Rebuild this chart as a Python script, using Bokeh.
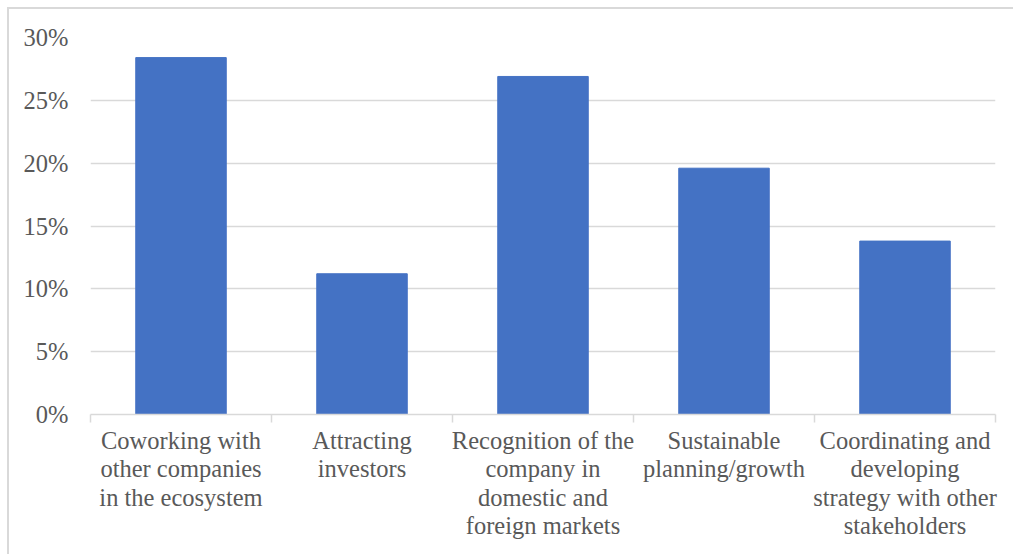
import numpy as np
from bokeh.plotting import figure
from bokeh.models import (ColumnDataSource, FixedTicker, NumeralTickFormatter,
                          Range1d, InlineStyleSheet)
from bokeh.embed import file_html
from bokeh.resources import INLINE

categories = [
    "Coworking with\nother companies\nin the ecosystem",
    "Attracting\ninvestors",
    "Recognition of the\ncompany in\ndomestic and\nforeign markets",
    "Sustainable\nplanning/growth",
    "Coordinating and\ndeveloping\nstrategy with other\nstakeholders",
]
values = [0.284, 0.112, 0.269, 0.196, 0.138]
y_ticks = [0, 0.05, 0.10, 0.15, 0.20, 0.25, 0.30]

n = len(categories)
pos = np.arange(n) + 0.5
source = ColumnDataSource(dict(x=pos, top=values))

FONT = "Liberation Serif"
TXT = "#595959"
GRID = "#d9d9d9"

border_css = InlineStyleSheet(css="""
:host::after {
  content: "";
  position: absolute;
  left: 7px; top: 7px; right: -20px; bottom: -20px;
  border: 2px solid #d9d9d9;
  pointer-events: none;
}
""")

p = figure(width=1013, height=554, output_backend="svg", toolbar_location=None,
           x_range=Range1d(0, n), y_range=Range1d(0, 0.30),
           min_border_left=90, min_border_right=18, min_border_top=37,
           min_border_bottom=140, stylesheets=[border_css])
p.outline_line_color = None
p.background_fill_color = "white"
p.border_fill_color = "white"

p.vbar(x="x", top="top", width=0.5, source=source, fill_color="#4472C4",
       line_color="#4472C4")

# y axis
p.yaxis.ticker = FixedTicker(ticks=y_ticks)
p.yaxis.formatter = NumeralTickFormatter(format="0%")
p.yaxis.axis_line_color = None
p.yaxis.major_tick_line_color = None
p.yaxis.major_tick_out = 0
p.yaxis.major_tick_in = 0
p.yaxis.minor_tick_line_color = None
p.yaxis.major_label_standoff = 22
p.yaxis.major_label_text_font = FONT
p.yaxis.major_label_text_font_size = "24.5px"
p.yaxis.major_label_text_color = TXT

# x axis
p.xaxis.ticker = FixedTicker(ticks=list(pos), minor_ticks=list(np.arange(n + 1)))
p.xaxis.major_label_overrides = {float(x): c for x, c in zip(pos, categories)}
p.xaxis.axis_line_color = GRID
p.xaxis.axis_line_width = 1.5
p.xaxis.major_tick_line_color = None
p.xaxis.major_tick_out = 0
p.xaxis.major_tick_in = 0
p.xaxis.minor_tick_line_color = GRID
p.xaxis.minor_tick_line_width = 1.5
p.xaxis.minor_tick_in = 0
p.xaxis.minor_tick_out = 8
p.xaxis.major_label_standoff = 4
p.xaxis.major_label_text_font = FONT
p.xaxis.major_label_text_font_size = "24.5px"
p.xaxis.major_label_text_color = TXT
p.xaxis.major_label_text_line_height = 1.06

p.xgrid.grid_line_color = None
p.ygrid.grid_line_color = GRID
p.ygrid.grid_line_width = 1.5

open("out.html", "w").write(file_html(p, INLINE))
